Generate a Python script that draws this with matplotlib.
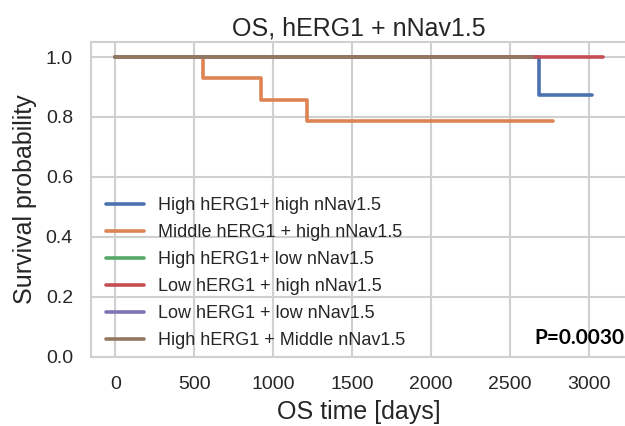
import matplotlib
matplotlib.use("Agg")
import matplotlib.pyplot as plt
import seaborn as sns

# Kaplan-Meier step curves, one per hERG1 / nNav1.5 group
group_labels = [
    "High hERG1+ high nNav1.5",
    "Middle hERG1 + high nNav1.5",
    "High hERG1+ low nNav1.5",
    "Low hERG1 + high nNav1.5",
    "Low hERG1 + low nNav1.5",
    "High hERG1 + Middle nNav1.5",
]

high_high_t = [0, 2681, 3020]
high_high_s = [1.0, 0.875, 0.875]

mid_high_t = [0, 552, 920, 1214, 2774]
mid_high_s = [1.0, 0.929, 0.857, 0.786, 0.786]

high_low_t = [0, 1500]
high_low_s = [1.0, 1.0]

low_high_t = [0, 3090]
low_high_s = [1.0, 1.0]

low_low_t = [0, 2000]
low_low_s = [1.0, 1.0]

high_mid_t = [0, 2637]
high_mid_s = [1.0, 1.0]

curves = [
    (high_high_t, high_high_s),
    (mid_high_t, mid_high_s),
    (high_low_t, high_low_s),
    (low_high_t, low_high_s),
    (low_low_t, low_low_s),
    (high_mid_t, high_mid_s),
]

x_ticks = [0, 500, 1000, 1500, 2000, 2500, 3000]
y_ticks = [0.0, 0.2, 0.4, 0.6, 0.8, 1.0]
p_text = "P=0.0030"

sns.set_theme(style="whitegrid")
plt.rcParams['font.family'] = ['Liberation Sans', 'DejaVu Sans']
colors = sns.color_palette("deep")

fig = plt.figure(figsize=(6.25, 4.26), dpi=100)
ax = fig.add_axes([0.1456, 0.162, 0.8584, 0.7394])

for (t, s), lab, c in zip(curves, group_labels, colors):
    ax.step(t, s, where="post", color=c, lw=2.6, label=lab)

ax.set_ylim(0, 1.05)
ax.set_xticks(x_ticks)
ax.set_yticks(y_ticks)
ax.tick_params(axis="x", labelsize=14, pad=7.5, colors="#262626")
ax.tick_params(axis="y", labelsize=14, pad=7, colors="#262626")
ax.grid(color="#d0d0d0", lw=1.5)
for sp in ax.spines.values():
    sp.set_color("#d0d0d0")
    sp.set_linewidth(1.5)

ax.set_title("OS, hERG1 + nNav1.5", fontsize=18, pad=5, color="#262626")
ax.set_xlabel("OS time [days]", fontsize=18, color="#262626", labelpad=5)
ax.set_ylabel("Survival probability", fontsize=18, color="#262626", labelpad=6)

ax.legend(loc="lower left", bbox_to_anchor=(0.014, 0.002), fontsize=13,
          frameon=False, labelspacing=0.55, handlelength=2.1, borderaxespad=0)

ax.text(0.995, 0.03, p_text, transform=ax.transAxes, ha="right", va="bottom",
        fontsize=15, fontweight="bold", family=["Lato", "DejaVu Sans"], color="black")

fig.savefig("out.png", dpi=100)
